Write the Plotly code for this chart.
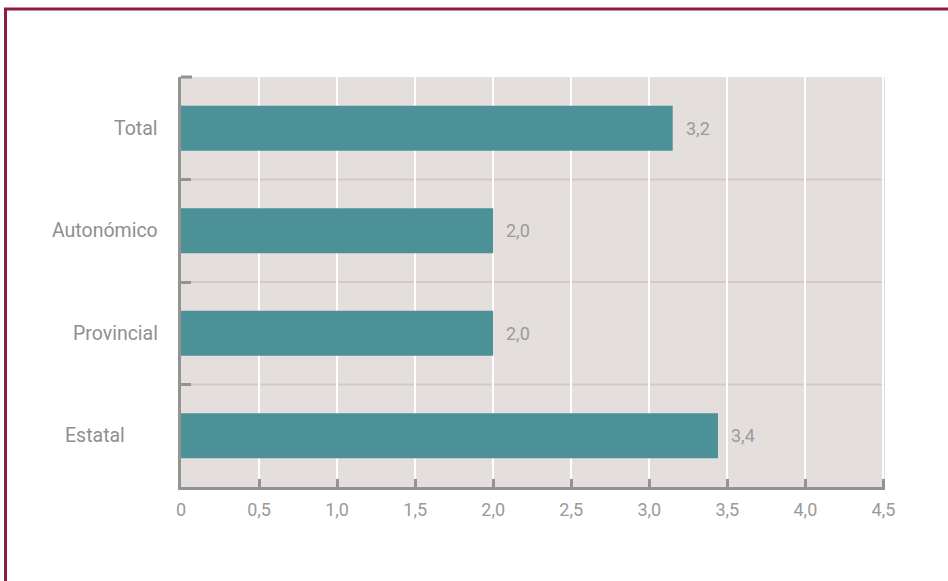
import plotly.graph_objects as go

categories = ["Total", "Autonómico", "Provincial", "Estatal"]
values = [3.15, 2.0, 2.0, 3.44]
value_labels = ["3,2", "2,0", "2,0", "3,4"]
label_shifts = [-21, -21, -21, -54]
tick_vals = [0, 0.5, 1.0, 1.5, 2.0, 2.5, 3.0, 3.5, 4.0, 4.5]
tick_text = ["0", "0,5", "1,0", "1,5", "2,0", "2,5", "3,0", "3,5", "4,0", "4,5"]

FONT = "Roboto, Arial, sans-serif"
GRAY = "#939393"

fig = go.Figure()
fig.add_trace(go.Bar(
    x=values, y=categories, orientation="h",
    marker=dict(color="#4d9198", line=dict(width=0)),
    width=0.44, hoverinfo="skip",
))

annotations = []
for c, v, t in zip(categories, values, value_labels):
    annotations.append(dict(x=v, y=c, xref="x", yref="y", text=t, showarrow=False,
                            xanchor="left", yanchor="middle", xshift=11,
                            font=dict(family=FONT, size=18, color="#9a9a9a")))
for c, s in zip(categories, label_shifts):
    annotations.append(dict(x=0, y=c, xref="paper", yref="y", text=c, showarrow=False,
                            xanchor="right", yanchor="middle", xshift=s,
                            font=dict(family=FONT, size=19.5, color="#8f8f8f")))

shapes = []
for b in [0.5, 1.5, 2.5]:
    shapes.append(dict(type="line", xref="paper", yref="y", x0=0, x1=1, y0=b, y1=b,
                       line=dict(color="#d3c9cd", width=2), layer="below"))
# top boundary tick on the y axis
shapes.append(dict(type="line", xref="paper", yref="paper", x0=0, x1=11 / 704, y0=1, y1=1,
                   line=dict(color=GRAY, width=3)))
# outer frame
shapes.append(dict(type="rect", xref="paper", yref="paper",
                   x0=(5.5 - 181) / 704, x1=(990 - 181) / 704,
                   y0=(487 - 620) / 410, y1=(487 - 9) / 410,
                   line=dict(color="#8e1b44", width=3), fillcolor="rgba(0,0,0,0)",
                   layer="below"))

fig.update_layout(
    width=948, height=581,
    margin=dict(l=181, r=63, t=77, b=94),
    paper_bgcolor="white", plot_bgcolor="#e4dfdd",
    showlegend=False,
    annotations=annotations, shapes=shapes,
    xaxis=dict(range=[0, 4.51], tickvals=tick_vals, ticktext=tick_text,
               showgrid=True, gridcolor="white", gridwidth=2,
               showline=True, linecolor=GRAY, linewidth=3,
               ticks="inside", ticklen=8, tickwidth=3, tickcolor=GRAY,
               ticklabelstandoff=4,
               tickfont=dict(family=FONT, size=18, color="#9a9a9a"),
               zeroline=False, fixedrange=True),
    yaxis=dict(categoryorder="array", categoryarray=categories, autorange="reversed",
               showticklabels=False, showgrid=False,
               showline=True, linecolor=GRAY, linewidth=3,
               ticks="inside", tickson="boundaries", ticklen=10, tickwidth=3, tickcolor=GRAY,
               zeroline=False, fixedrange=True),
    bargap=0.56,
)

fig.write_html("out.html", config={"displayModeBar": False},
               post_script="document.body.style.margin='0';")
